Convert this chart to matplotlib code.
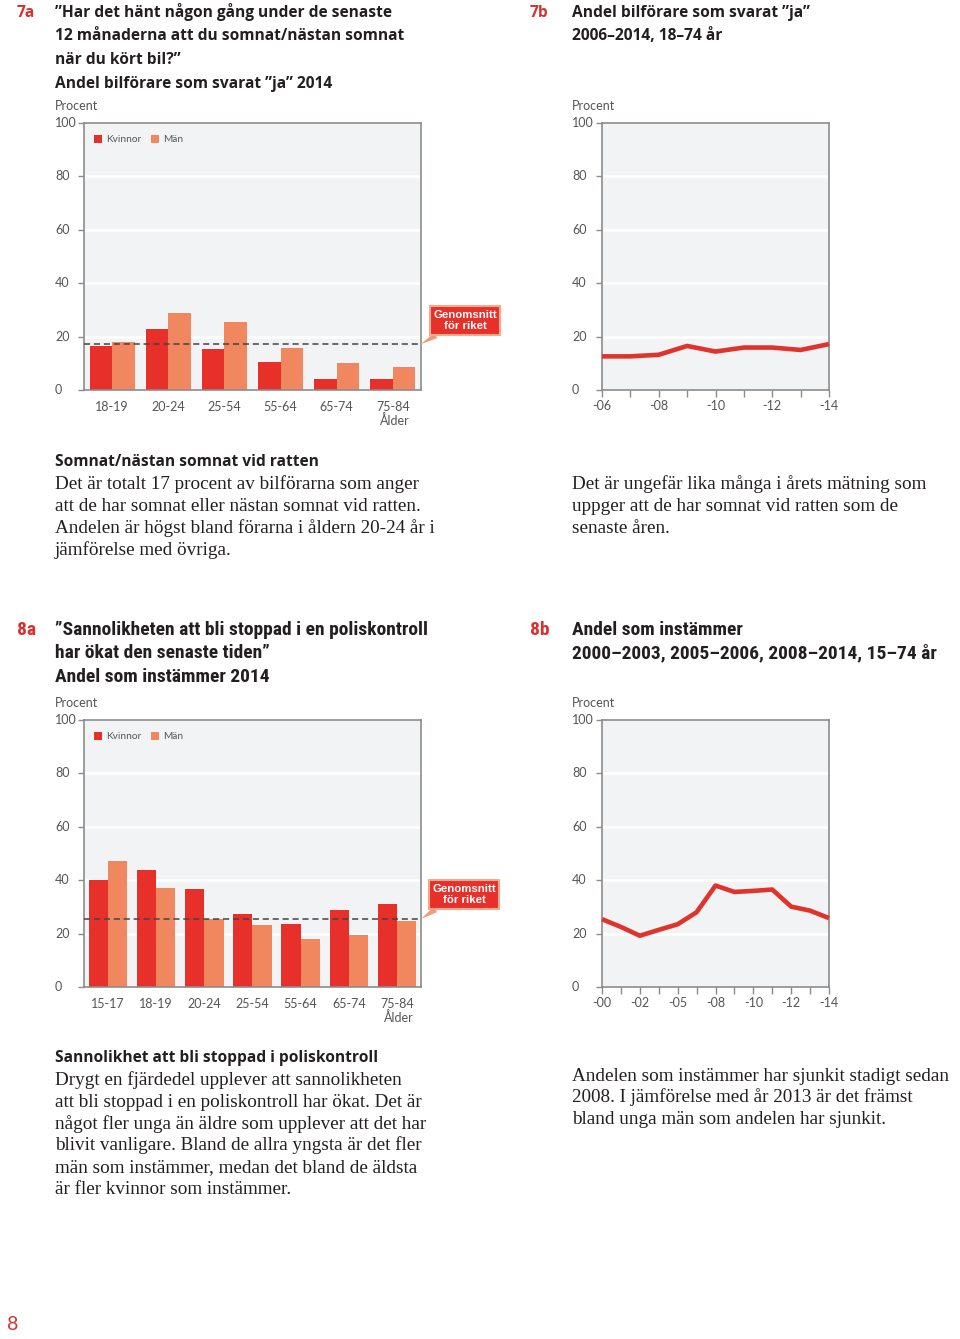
import numpy as np
import matplotlib.pyplot as plt
from matplotlib.transforms import blended_transform_factory

W, H = 960, 1339

# 7a: somnat/nastan somnat, andel "ja" 2014
aldrar_7a = ['18-19', '20-24', '25-54', '55-64', '65-74', '75-84']
kvinnor_7a = [16.5, 22.8, 15.3, 10.4, 4.2, 4.2]
man_7a = [18.0, 29.0, 25.5, 15.8, 10.0, 8.7]
snitt_7a = 17.2

# 7b: andel "ja" 2006-2014
ar_7b = [2006, 2007, 2008, 2009, 2010, 2011, 2012, 2013, 2014]
andel_7b = [12.6, 12.6, 13.2, 16.5, 14.4, 15.9, 15.9, 15.0, 17.2]

# 8a: sannolikhet att bli stoppad, 2014
aldrar_8a = ['15-17', '18-19', '20-24', '25-54', '55-64', '65-74', '75-84']
kvinnor_8a = [40.0, 43.8, 36.7, 27.4, 23.7, 28.9, 31.2]
man_8a = [47.1, 37.2, 25.5, 23.2, 18.1, 19.5, 24.7]
snitt_8a = 25.5

# 8b: andel som instammer
ar_8b = [2000, 2001, 2002, 2003, 2005, 2006, 2008, 2009, 2010, 2011, 2012, 2013, 2014]
andel_8b = [25.4, 22.5, 19.2, 21.4, 23.5, 28.0, 38.0, 35.6, 36.0, 36.5, 30.1, 28.6, 25.8]

yticks = [0, 20, 40, 60, 80, 100]

ROD = '#e8302a'
LAX = '#f0875f'
LINJE = '#e0332b'
BG = '#f1f3f4'
RAM = '#8c8c8c'
GRA = '#555555'
SVART = '#231f20'
NR_ROD = '#d5312f'

AX_FONT = 'Lato'
RUB_FONT = 'Open Sans'
RUB2_FONT = ['Roboto Condensed', 'Roboto']
BRODTEXT = 'Liberation Serif'

fig = plt.figure(figsize=(W / 100, H / 100), dpi=100)
fig.patch.set_facecolor('white')


def ftext(x, y, s, **kw):
    return fig.text(x / W, 1 - y / H, s, **kw)


def ny_axes(left, top, right, bottom):
    return fig.add_axes([left / W, 1 - bottom / H, (right - left) / W, (bottom - top) / H])


def grund(ax, label_x, top):
    ax.set_facecolor(BG)
    for sp in ax.spines.values():
        sp.set_color(RAM)
        sp.set_linewidth(1.2)
    ax.set_ylim(0, 100)
    ax.set_yticks(yticks)
    ax.tick_params(axis='y', length=4, width=1.0, color=RAM, labelleft=False)
    for v in yticks[1:-1]:
        ax.axhline(v, color='white', lw=1.8, zorder=0.5)
    tr = blended_transform_factory(fig.transFigure, ax.transData)
    for v in yticks:
        ax.text(label_x / W, v, str(v), transform=tr, ha='left', va='center',
                fontsize=9, color=GRA, family=AX_FONT)
    ftext(label_x, top - 17, 'Procent', ha='left', va='center',
          fontsize=9, color=GRA, family=AX_FONT)


def stapel(ax, aldrar, kv, ma, snitt, box_xy):
    x = np.arange(len(aldrar))
    b1 = ax.bar(x - 0.2, kv, width=0.4, color=ROD, zorder=2, label='Kvinnor')
    b2 = ax.bar(x + 0.2, ma, width=0.4, color=LAX, zorder=2, label='Män')
    ax.set_xlim(-0.5, len(aldrar) - 0.5)
    ax.set_xticks(x)
    etiketter = list(aldrar)
    etiketter[-1] = etiketter[-1] + '\nÅlder'
    ax.set_xticklabels(etiketter, fontsize=9, color=GRA, family=AX_FONT,
                       multialignment='right', linespacing=1.05)
    ax.tick_params(axis='x', length=0, pad=8)
    ax.axhline(snitt, color='#444444', lw=1.1, ls=(0, (4, 2.5)), zorder=3)
    leg = ax.legend(handles=[b1, b2], loc='upper left', ncol=2, frameon=False,
                    bbox_to_anchor=(0.03, 0.955), borderaxespad=0, borderpad=0,
                    handlelength=0.8, handleheight=0.8, handletextpad=0.4,
                    columnspacing=0.9, prop={'family': AX_FONT, 'size': 7.3})
    for t in leg.get_texts():
        t.set_color(GRA)
    ax.annotate('Genomsnitt\nför riket', xy=(len(aldrar) - 0.5, snitt), xycoords='data',
                xytext=(box_xy[0], H - box_xy[1]), textcoords='figure pixels',
                ha='center', va='center', color='white', fontweight='bold',
                fontsize=8.2, family='Liberation Sans', linespacing=1.2,
                bbox=dict(boxstyle='square,pad=0.3', fc=ROD, ec='#f7a88c', lw=1.5),
                arrowprops=dict(arrowstyle='wedge,tail_width=0.55,shrink_factor=0.5',
                                fc='#f39a7a', ec='none', relpos=(0.15, 0.0),
                                shrinkA=0, shrinkB=0),
                annotation_clip=False, zorder=5)


def linje(ax, ar, andel):
    x = np.arange(len(ar))
    ax.plot(x, andel, color=LINJE, lw=3.3, solid_joinstyle='round',
            solid_capstyle='butt', zorder=3, clip_on=False)
    ax.set_xlim(0, len(ar) - 1)
    ax.set_xticks(x)
    ax.set_xticklabels(['-' + str(a)[2:] if i % 2 == 0 else '' for i, a in enumerate(ar)],
                       fontsize=9, color=GRA, family=AX_FONT)
    ax.tick_params(axis='x', length=5, width=1.0, color=RAM, pad=2.5)


# ---- 7a ----
ax7a = ny_axes(84, 123, 421, 390)
grund(ax7a, 55, 123)
stapel(ax7a, aldrar_7a, kvinnor_7a, man_7a, snitt_7a, (465, 320.5))

# ---- 7b ----
ax7b = ny_axes(602, 123, 829, 390)
grund(ax7b, 572, 123)
linje(ax7b, ar_7b, andel_7b)

# ---- 8a ----
ax8a = ny_axes(84, 720, 421, 987)
grund(ax8a, 55, 720)
stapel(ax8a, aldrar_8a, kvinnor_8a, man_8a, snitt_8a, (464, 894.5))

# ---- 8b ----
ax8b = ny_axes(602, 720, 829, 987)
grund(ax8b, 572, 720)
linje(ax8b, ar_8b, andel_8b)

# ---- rubriker ----
rub = dict(fontsize=11.2, fontweight='bold', color=SVART, family=RUB_FONT, va='baseline')
nr = dict(fontsize=11.2, fontweight='bold', color=NR_ROD, family=RUB_FONT, va='baseline')
rub2 = dict(fontsize=14, fontweight='bold', color=SVART, family=RUB2_FONT, va='baseline')
nr2 = dict(fontsize=14, fontweight='bold', color=NR_ROD, family=RUB2_FONT, va='baseline')

ftext(17, 17, '7a', **nr)
for i, s in enumerate(['”Har det hänt någon gång under de senaste',
                       '12 månaderna att du somnat/nästan somnat',
                       'när du kört bil?”',
                       'Andel bilförare som svarat ”ja” 2014']):
    ftext(55, 17 + i * 23.5, s, **rub)

ftext(530, 17, '7b', **nr)
for i, s in enumerate(['Andel bilförare som svarat ”ja”',
                       '2006–2014, 18–74 år']):
    ftext(572, 17 + i * 23.5, s, **rub)

ftext(17, 635, '8a', **nr2)
for i, s in enumerate(['”Sannolikheten att bli stoppad i en poliskontroll',
                       'har ökat den senaste tiden”',
                       'Andel som instämmer 2014']):
    ftext(55, 635 + i * 23.5, s, **rub2)

ftext(530, 635, '8b', **nr2)
for i, s in enumerate(['Andel som instämmer',
                       '2000–2003, 2005–2006, 2008–2014, 15–74 år']):
    ftext(572, 635 + i * 23.5, s, **rub2)

# ---- brodtext ----
bt = dict(fontsize=13.8, color=SVART, family=BRODTEXT, va='baseline')
mellan = dict(fontsize=11.2, fontweight='bold', color=SVART, family=RUB_FONT, va='baseline')

ftext(55, 466, 'Somnat/nästan somnat vid ratten', **mellan)
for i, s in enumerate(['Det är totalt 17 procent av bilförarna som anger',
                       'att de har somnat eller nästan somnat vid ratten.',
                       'Andelen är högst bland förarna i åldern 20-24 år i',
                       'jämförelse med övriga.']):
    ftext(55, 489 + i * 22, s, **bt)

for i, s in enumerate(['Det är ungefär lika många i årets mätning som',
                       'uppger att de har somnat vid ratten som de',
                       'senaste åren.']):
    ftext(572, 489 + i * 22, s, **bt)

ftext(55, 1062, 'Sannolikhet att bli stoppad i poliskontroll', **mellan)
for i, s in enumerate(['Drygt en fjärdedel upplever att sannolikheten',
                       'att bli stoppad i en poliskontroll har ökat. Det är',
                       'något fler unga än äldre som upplever att det har',
                       'blivit vanligare. Bland de allra yngsta är det fler',
                       'män som instämmer, medan det bland de äldsta',
                       'är fler kvinnor som instämmer.']):
    ftext(55, 1085 + i * 21.8, s, **bt)

for i, s in enumerate(['Andelen som instämmer har sjunkit stadigt sedan',
                       '2008. I jämförelse med år 2013 är det främst',
                       'bland unga män som andelen har sjunkit.']):
    ftext(572, 1081 + i * 21.5, s, **bt)

ftext(7, 1325, '8', fontsize=14, color=NR_ROD, family=AX_FONT, va='center', ha='left')

fig.savefig('out.png', dpi=100, facecolor='white')
